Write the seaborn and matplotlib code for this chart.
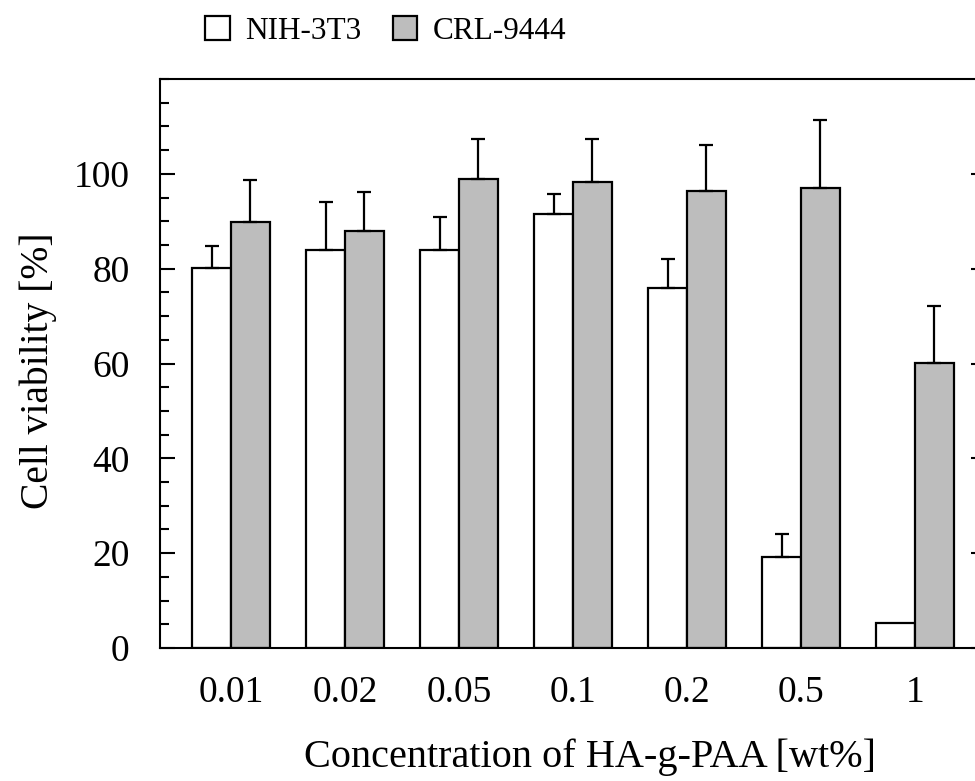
import matplotlib
matplotlib.use('Agg')
import matplotlib.pyplot as plt
import seaborn as sns
import pandas as pd
from matplotlib.ticker import MultipleLocator

concentrations = ['0.01', '0.02', '0.05', '0.1', '0.2', '0.5', '1']
series_names = ['NIH-3T3', 'CRL-9444']
nih_mean = [80.2, 84.0, 84.0, 91.5, 75.9, 19.2, 5.3]
nih_err = [4.5, 10.1, 7.0, 4.2, 6.1, 4.8, 0.0]
crl_mean = [89.9, 88.0, 99.0, 98.3, 96.3, 97.1, 60.1]
crl_err = [8.8, 8.2, 8.4, 9.1, 9.7, 14.3, 12.1]
yticks = [0, 20, 40, 60, 80, 100]
xlabel = 'Concentration of HA-g-PAA [wt%]'
ylabel = 'Cell viability [%]'

df = pd.DataFrame({
    'conc': concentrations * 2,
    'cell': [series_names[0]] * len(concentrations) + [series_names[1]] * len(concentrations),
    'viability': nih_mean + crl_mean,
})

sns.set_theme(style='ticks')
plt.rcParams['font.family'] = ['Liberation Serif', 'DejaVu Serif']
plt.rcParams['text.color'] = 'black'
plt.rcParams['axes.labelcolor'] = 'black'
plt.rcParams['xtick.color'] = 'black'
plt.rcParams['ytick.color'] = 'black'

fig = plt.figure(figsize=(9.75, 7.81), dpi=100)
ax = fig.add_axes([160 / 975, 133 / 781, 826 / 975, 569 / 781])

sns.barplot(data=df, x='conc', y='viability', hue='cell', order=concentrations,
            hue_order=series_names, palette=['white', '#bdbdbd'],
            edgecolor='black', linewidth=1.6, width=0.68, gap=0,
            errorbar=None, ax=ax, saturation=1)

for container, errs in zip(ax.containers, [nih_err, crl_err]):
    for bar, e in zip(container, errs):
        if e <= 0:
            continue
        xc = bar.get_x() + bar.get_width() / 2
        ax.errorbar([xc], [bar.get_height()], yerr=[[0], [e]], fmt='none',
                    ecolor='black', elinewidth=1.6, capsize=5, capthick=1.6,
                    zorder=1)

ax.set_xlim(-0.623, 6.623)
ax.set_ylim(0, 120)
ax.set_yticks(yticks)
ax.yaxis.set_minor_locator(MultipleLocator(5))
ax.tick_params(axis='y', which='major', direction='in', length=11, width=1.5,
               left=True, right=True, labelsize=27, pad=22, colors='black')
ax.tick_params(axis='y', which='minor', direction='in', length=6.5, width=1.5,
               left=True, right=True, colors='black')
ax.tick_params(axis='x', which='both', length=0, labelsize=27, pad=20,
               labelcolor='black')
for sp in ax.spines.values():
    sp.set_linewidth(1.5)
    sp.set_color('black')
    sp.set_visible(True)

ax.set_xlabel(xlabel, fontsize=29, labelpad=20, color='black')
ax.set_ylabel(ylabel, fontsize=28.5, labelpad=12, color='black')
ax.xaxis.label.set_x(0.52)
ax.yaxis.label.set_y(0.488)

sns.move_legend(ax, 'upper left', bbox_to_anchor=(196 / 975, 1 - 7 / 781),
                bbox_transform=fig.transFigure, ncol=2, frameon=False,
                title=None, fontsize=22.5, handlelength=0.78, handleheight=0.78,
                handletextpad=0.5, columnspacing=1.0, borderaxespad=0,
                borderpad=0.3)
for t in ax.get_legend().get_texts():
    t.set_color('black')

fig.savefig('out.png', dpi=100)
